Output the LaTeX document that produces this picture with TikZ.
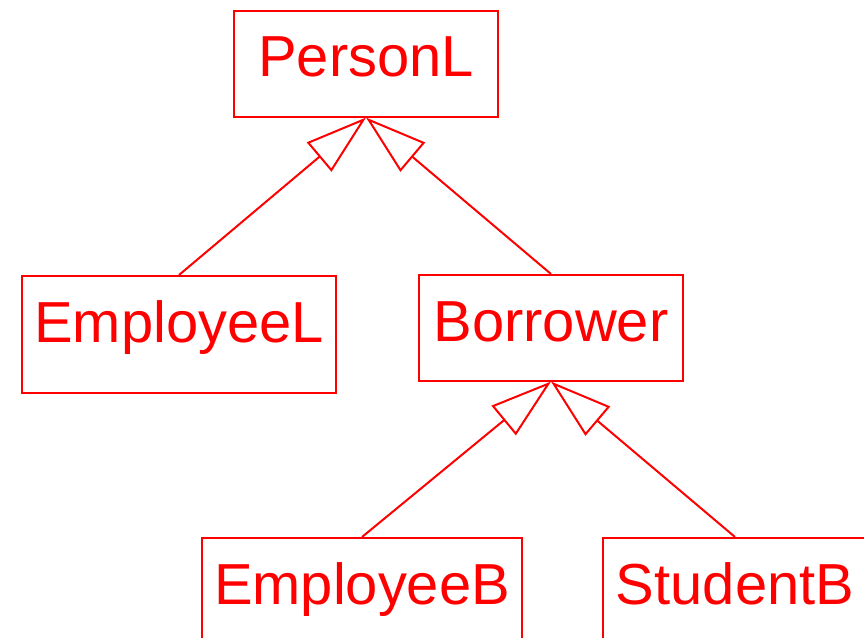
\documentclass[tikz,border=0pt]{standalone}
\usepackage{fontspec}
\setmainfont{Liberation Sans}
\usepackage{tikz}
\usetikzlibrary{arrows.meta,positioning}
\tikzset{class node/.style={rectangle, draw=red, text=red, line width=1.5pt,
    anchor=north, minimum width=198pt, inner xsep=9pt, inner ysep=29.25pt,
    text height=20.25pt,
    font=\fontsize{43.4}{50}\selectfont}}
\tikzset{inherit edge/.style={draw=red, line width=1.5pt,
    -{Triangle[open, length=46pt, width=28.5pt]}}}

\begin{document}
\begin{tikzpicture}
  [x=0.75pt, y=-0.75pt]
  \useasboundingbox (0,0) rectangle (864,638);
  \begin{scope}
    \node [class node] (personl)   at (366, 10) {PersonL};
    \node [class node] (employeel) at (179,275) {EmployeeL};
    \node [class node] (borrower)  at (551,274) {Borrower};
    \node [class node] (employeeb) at (362,537) {EmployeeB};
    \node [class node] (studentb)  at (735,537) {StudentB};

    \draw [inherit edge] (employeel.north) -- (personl.south);
    \draw [inherit edge] (borrower.north)  -- (personl.south);
    \draw [inherit edge] (employeeb.north) -- (borrower.south);
    \draw [inherit edge] (studentb.north)  -- (borrower.south);
  \end{scope}
\end{tikzpicture}
\end{document}
